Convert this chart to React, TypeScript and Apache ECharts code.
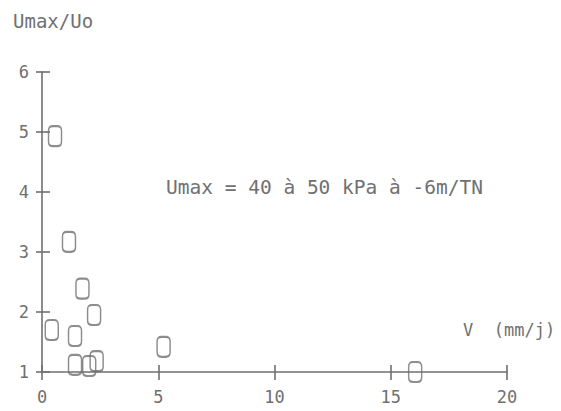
import React, { useEffect, useRef } from "react";
import * as echarts from "echarts";

const velocities = [0.56, 0.42, 1.16, 1.74, 2.24, 1.42, 1.42, 2.03, 2.35, 5.23, 16.05];
const ratios = [4.93, 1.7, 3.17, 2.39, 1.95, 1.6, 1.12, 1.1, 1.18, 1.42, 1.0];
const yTitle = "Umax/Uo";
const xTitle = "V  (mm/j)";
const note = "Umax = 40 à 50 kPa à -6m/TN";

const GREY = "#707070";
const FONT = "DejaVu Sans Mono";
const MARKER = "path://M4,0 L8,0 Q12,0 12,4 L12,14 Q12,18 8,18 L4,18 Q0,18 0,14 L0,4 Q0,0 4,0 Z";

export default function App() {
  const ref = useRef<HTMLDivElement>(null);
  useEffect(() => {
    if (!ref.current) return;
    const chart = echarts.init(ref.current, null, { renderer: "svg" });
    const points = velocities.map((v, i) => [v, ratios[i]]);
    const tickLabel = { color: GREY, fontFamily: FONT, fontSize: 17 };
    chart.setOption({
      animation: false,
      backgroundColor: "#fff",
      grid: { left: 42, top: 72, width: 465, height: 300, containLabel: false, outerBoundsMode: "none" },
      xAxis: [
        {
          type: "value", min: 0, max: 20, interval: 5,
          axisLine: { onZero: false, lineStyle: { color: GREY, width: 1.6 } },
          axisTick: { show: true, length: 8, inside: false, lineStyle: { color: GREY, width: 1.6 } },
          axisLabel: { ...tickLabel, margin: 16 },
          splitLine: { show: false },
        },
        {
          type: "value", min: 0, max: 20, interval: 5, position: "bottom",
          axisLine: { show: false },
          axisTick: { show: true, length: 7, inside: true, lineStyle: { color: GREY, width: 1.6 } },
          axisLabel: { show: false },
          splitLine: { show: false },
        },
      ],
      yAxis: [
        {
          type: "value", min: 1, max: 6, interval: 1,
          name: yTitle, nameLocation: "end", nameGap: 42,
          nameTextStyle: { color: GREY, fontFamily: FONT, fontSize: 19, align: "left", padding: [0, 0, 0, -29] },
          axisLine: { onZero: false, lineStyle: { color: GREY, width: 1.6 } },
          axisTick: { show: true, length: 6, inside: false, lineStyle: { color: GREY, width: 1.6 } },
          axisLabel: { ...tickLabel, margin: 13 },
          splitLine: { show: false },
        },
        {
          type: "value", min: 1, max: 6, interval: 1, position: "left",
          axisLine: { show: false },
          axisTick: { show: true, length: 8, inside: true, lineStyle: { color: GREY, width: 1.6 } },
          axisLabel: { show: false },
          splitLine: { show: false },
        },
      ],
      series: [
        {
          type: "scatter",
          data: points,
          symbol: MARKER,
          symbolSize: [13, 20],
          itemStyle: { color: "rgba(0,0,0,0)", borderColor: GREY, borderWidth: 1.8 },
        },
      ],
      graphic: [
        {
          type: "text", left: 166, top: 177,
          style: { text: note, fill: GREY, font: `19.5px '${FONT}'` },
        },
        {
          type: "text", left: 463, top: 321,
          style: { text: xTitle, fill: GREY, font: `17px '${FONT}'` },
        },
      ],
    });
    return () => chart.dispose();
  }, []);
  return <div ref={ref} style={{ position: "fixed", left: 0, top: 0, width: 561, height: 411 }} />;
}
